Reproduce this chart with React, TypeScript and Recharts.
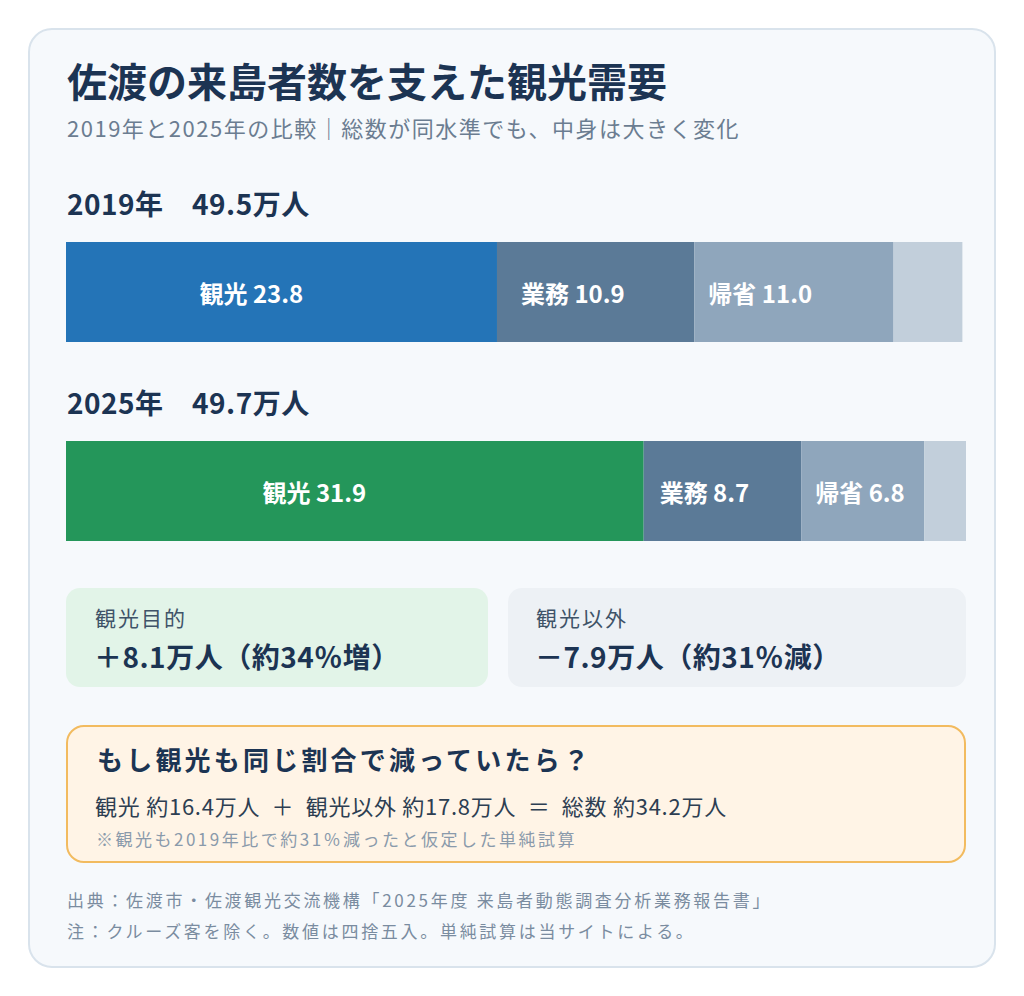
import React from 'react';
import { BarChart, Bar, XAxis, YAxis, LabelList } from 'recharts';

const years = ['2019年', '2025年'];
const totals = [49.5, 49.7];
const segNames = ['観光', '業務', '帰省', 'その他'];
const kanko = [23.8, 31.9];
const gyomu = [10.9, 8.7];
const kisei = [11.0, 6.8];
const other = [3.8, 2.3];
const kankoColors = ['#2474b7', '#24965a'];
const segColors = ['#5b7a97', '#8fa6bc', '#c2cfdb'];

const FONT = '"Noto Sans CJK JP", "Noto Sans", sans-serif';
const NAVY = '#1c3453';

const rows = years.map((y, i) => ({
  year: y,
  kanko: kanko[i],
  gyomu: gyomu[i],
  kisei: kisei[i],
  other: other[i],
}));

const centerLabel = (name: string) => (props: any) => {
  const { x, y, width, height, value } = props;
  return (
    <text
      x={Number(x) + Number(width) * 0.43}
      y={Number(y) + Number(height) / 2}
      textAnchor="middle"
      dominantBaseline="central"
      fill="#ffffff"
      fontSize={24}
      fontWeight={700}
      fontFamily={FONT}
    >
      {`${name} ${Number(value).toFixed(1)}`}
    </text>
  );
};

const startLabel = (name: string, pad: number) => (props: any) => {
  const { x, y, height, value } = props;
  return (
    <text
      x={Number(x) + pad}
      y={Number(y) + Number(height) / 2}
      textAnchor="start"
      dominantBaseline="central"
      fill="#ffffff"
      fontSize={24}
      fontWeight={700}
      fontFamily={FONT}
    >
      {`${name} ${Number(value).toFixed(1)}`}
    </text>
  );
};

function StackBar({ idx }: { idx: number }) {
  return (
    <BarChart
      width={900}
      height={100}
      data={[rows[idx]]}
      layout="vertical"
      margin={{ top: 0, right: 0, bottom: 0, left: 0 }}
      barCategoryGap={0}
    >
      <XAxis type="number" domain={[0, 49.7]} hide />
      <YAxis type="category" dataKey="year" hide />
      <Bar dataKey="kanko" stackId="s" fill={kankoColors[idx]} isAnimationActive={false}>
        <LabelList dataKey="kanko" content={centerLabel(segNames[0])} />
      </Bar>
      <Bar dataKey="gyomu" stackId="s" fill={segColors[0]} isAnimationActive={false}>
        <LabelList dataKey="gyomu" content={startLabel(segNames[1], idx === 0 ? 24 : 16)} />
      </Bar>
      <Bar dataKey="kisei" stackId="s" fill={segColors[1]} isAnimationActive={false}>
        <LabelList dataKey="kisei" content={startLabel(segNames[2], 14)} />
      </Bar>
      <Bar dataKey="other" stackId="s" fill={segColors[2]} isAnimationActive={false} />
    </BarChart>
  );
}

const txt = (
  left: number,
  center: number,
  size: number,
  color: string,
  weight: number,
  ls: number,
  content: React.ReactNode
) => (
  <div
    style={{
      position: 'absolute',
      left,
      top: center - size / 2,
      fontSize: size,
      lineHeight: `${size}px`,
      color,
      fontWeight: weight,
      letterSpacing: ls,
      whiteSpace: 'nowrap',
      fontFamily: FONT,
    }}
  >
    {content}
  </div>
);

export default function App() {
  return (
    <div
      style={{
        position: 'absolute',
        left: 0,
        top: 0,
        width: 1024,
        height: 996,
        background: '#ffffff',
        fontFamily: FONT,
        overflow: 'hidden',
      }}
    >
      <div
        style={{
          position: 'absolute',
          left: 28,
          top: 28,
          width: 968,
          height: 940,
          boxSizing: 'border-box',
          border: '2px solid #d9e3ec',
          borderRadius: 24,
          background: '#f6f9fc',
        }}
      />
      {txt(67, 80, 40, NAVY, 700, 0, '佐渡の来島者数を支えた観光需要')}
      {txt(67, 127, 22, '#6b7d91', 400, 1.5, '2019年と2025年の比較｜総数が同水準でも、中身は大きく変化')}

      {txt(67, 203, 28, NAVY, 700, 0.5, `${years[0]}　${totals[0].toFixed(1)}万人`)}
      <div style={{ position: 'absolute', left: 66, top: 242 }}>
        <StackBar idx={0} />
      </div>

      {txt(67, 402, 28, NAVY, 700, 0.5, `${years[1]}　${totals[1].toFixed(1)}万人`)}
      <div style={{ position: 'absolute', left: 66, top: 441 }}>
        <StackBar idx={1} />
      </div>

      <div
        style={{
          position: 'absolute',
          left: 66,
          top: 588,
          width: 422,
          height: 99,
          borderRadius: 14,
          background: '#e2f4e8',
        }}
      />
      <div
        style={{
          position: 'absolute',
          left: 508,
          top: 588,
          width: 458,
          height: 99,
          borderRadius: 14,
          background: '#edf1f5',
        }}
      />
      {txt(95, 617, 21, '#3f5368', 400, 2, '観光目的')}
      {txt(94, 656, 28, NAVY, 700, 0.5, '＋8.1万人（約34％増）')}
      {txt(536, 617, 21, '#3f5368', 400, 2, '観光以外')}
      {txt(535, 656, 28, NAVY, 700, 0.5, '－7.9万人（約31％減）')}

      <div
        style={{
          position: 'absolute',
          left: 66,
          top: 725,
          width: 900,
          height: 138,
          boxSizing: 'border-box',
          borderRadius: 18,
          border: '2px solid #f2bb5f',
          background: '#fff4e6',
        }}
      />
      {txt(97, 759, 26, NAVY, 700, 3.2, 'もし観光も同じ割合で減っていたら？')}
      {txt(95, 805, 22, '#2d3e52', 400, 0.75, '観光 約16.4万人\u00a0\u00a0＋\u00a0\u00a0観光以外 約17.8万人\u00a0\u00a0＝\u00a0\u00a0総数 約34.2万人')}
      {txt(96, 838, 17, '#8a9aab', 400, 2.5, '※観光も2019年比で約31％減ったと仮定した単純試算')}

      {txt(67, 899, 17, '#7a8ca0', 400, 2.7, '出典：佐渡市・佐渡観光交流機構「2025年度 来島者動態調査分析業務報告書」')}
      {txt(67, 930, 17, '#7a8ca0', 400, 2.7, '注：クルーズ客を除く。数値は四捨五入。単純試算は当サイトによる。')}
    </div>
  );
}
